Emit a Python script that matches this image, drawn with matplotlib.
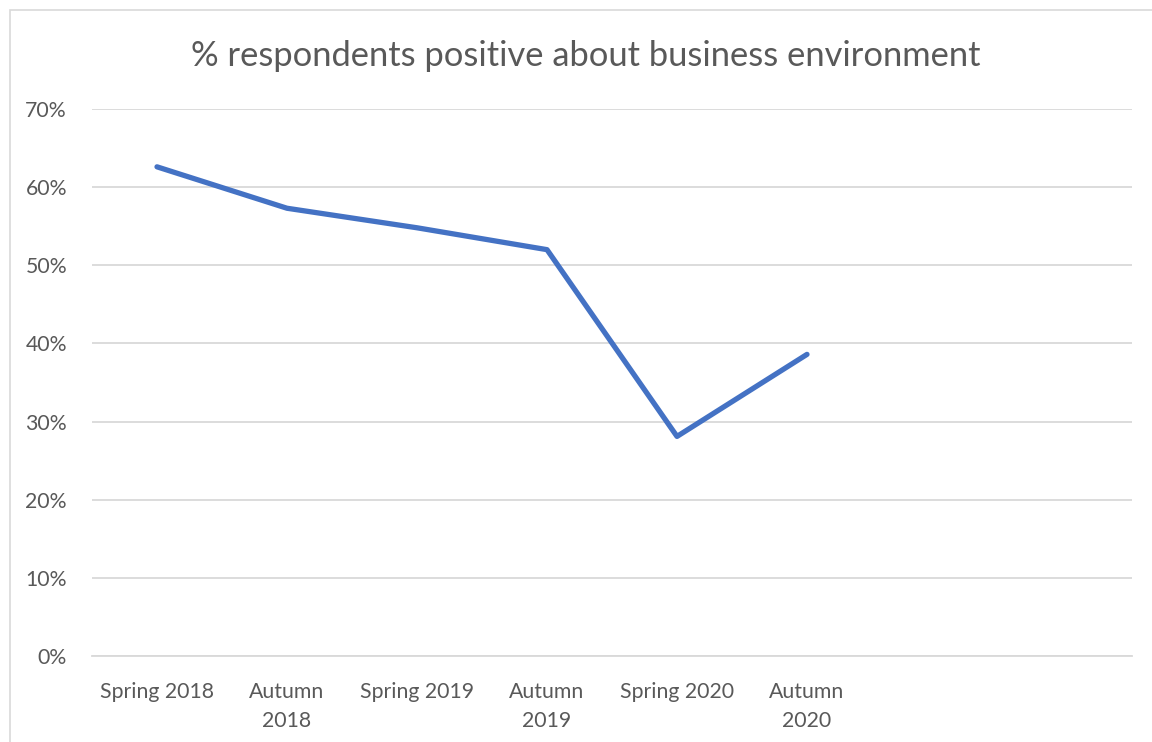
import matplotlib
matplotlib.use("Agg")
import matplotlib.pyplot as plt
from matplotlib.patches import Rectangle

# survey waves (last two slots are empty categories on the axis)
periods = ["Spring 2018", "Autumn\n2018", "Spring 2019", "Autumn\n2019",
           "Spring 2020", "Autumn\n2020", "", ""]
positive = [0.626, 0.573, 0.548, 0.520, 0.281, 0.386]
yticks = [0, 0.1, 0.2, 0.3, 0.4, 0.5, 0.6, 0.7]

plt.rcParams['font.family'] = ['Lato', 'DejaVu Sans']
text_col = '#595959'

fig = plt.figure(figsize=(11.52, 7.42), dpi=100)
ax = fig.add_axes([92 / 1152, 86 / 742, 1040 / 1152, 547 / 742])

x = [i + 0.5 for i in range(len(positive))]
ax.plot(x, positive, color='#4472C4', lw=3.8, solid_capstyle='round',
        solid_joinstyle='round', zorder=3)

ax.set_xlim(0, len(periods))
ax.set_ylim(0, 0.7)
ax.set_xticks([i + 0.5 for i in range(len(periods))])
ax.set_xticklabels(periods, fontsize=15.3, color=text_col, linespacing=1.55)
ax.set_yticks(yticks)
ax.set_yticklabels([f"{int(round(v * 100))}%" for v in yticks], fontsize=15.3, color=text_col)
ax.tick_params(length=0)
ax.tick_params(axis='x', pad=19)
ax.tick_params(axis='y', pad=18)
ax.grid(axis='y', color='#D9D9D9', lw=1.3)
ax.set_axisbelow(True)
for s in ax.spines.values():
    s.set_visible(False)
ax.spines['bottom'].set_visible(True)
ax.spines['bottom'].set_color('#D9D9D9')
ax.spines['bottom'].set_linewidth(1.3)

fig.text(586 / 1152, 1 - 56 / 742, "% respondents positive about business environment",
         ha='center', va='center', fontsize=24.8, color=text_col)

# chart frame
fig.patches.append(Rectangle((10 / 1152, -0.1), 1.2, 1 - 10 / 742 + 0.1,
                             transform=fig.transFigure, fill=False,
                             edgecolor='#D9D9D9', lw=1.2))

fig.savefig("out.png", dpi=100)
